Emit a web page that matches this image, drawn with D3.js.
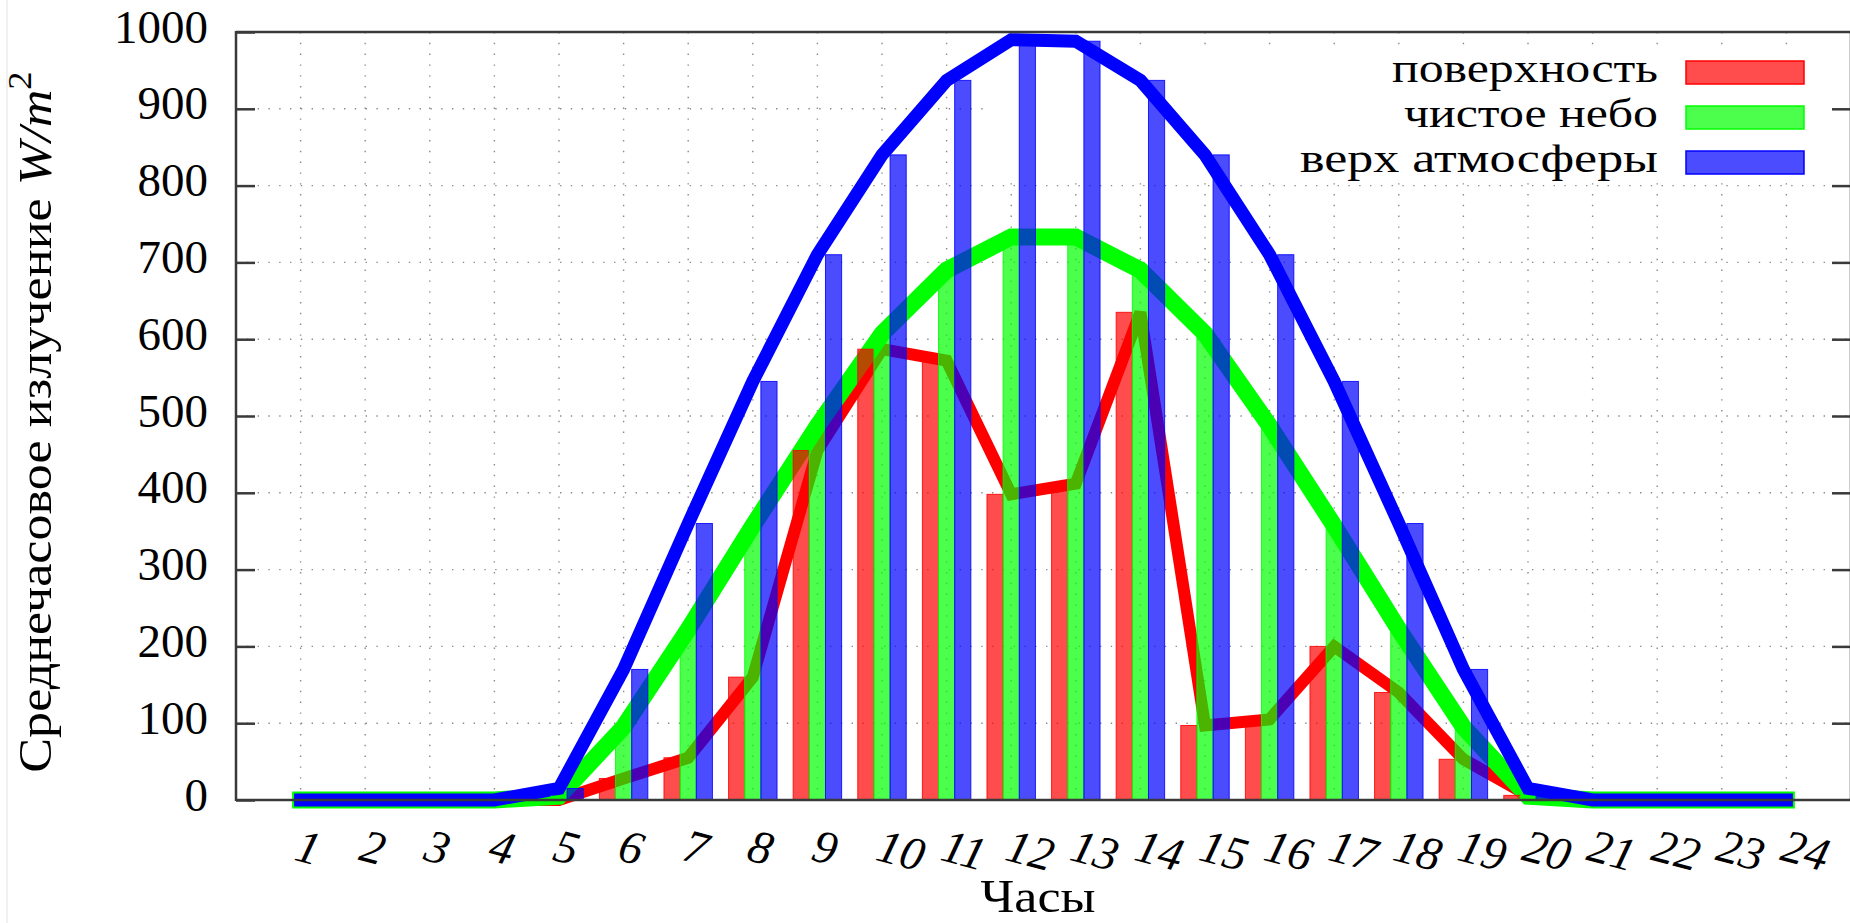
<!DOCTYPE html>
<html>
<head>
<meta charset="utf-8">
<script src="https://cdn.jsdelivr.net/npm/d3@7"></script>
<style>
  html, body { margin: 0; padding: 0; background: #fff; }
  svg { display: block; }
  text { font-family: "Liberation Serif", "Times New Roman", "DejaVu Serif", serif; }
</style>
</head>
<body>
<svg id="chart" width="1850" height="923"></svg>
<script>
// ---- data ----
const hours = [1,2,3,4,5,6,7,8,9,10,11,12,13,14,15,16,17,18,19,20,21,22,23,24];
const hourLabels = ["1","2","3","4","5","6","7","8","9","10","11","12","13","14","15","16","17","18","19","20","21","22","23","24"];
const surface  = [0,0,0,0,0,28,55,160,455,587,572,398,412,635,97,105,200,140,53,6,0,0,0,0];
const clearSky = [0,0,0,0,5,95,222,357,487,607,690,733,733,690,607,487,357,222,95,5,0,0,0,0];
const topAtm   = [0,0,0,0,15,170,360,545,710,840,937,990,988,937,840,710,545,360,170,15,0,0,0,0];
const yTicks = [0,100,200,300,400,500,600,700,800,900,1000];
const yTickLabels = ["0","100","200","300","400","500","600","700","800","900","1000"];
const seriesNames = ["поверхность", "чистое небо", "верх атмосферы"];
const xTitle = "Часы";
const yTitle = "Среднечасовое излучение ";

const colors = ["#ff0000", "#00ff00", "#0000ff"];
const series = [surface, clearSky, topAtm];

const svg = d3.select("#chart");
const W = 1850, H = 923;
const L = 236, R = 1851, T = 32, B = 800;
const x = d3.scaleLinear().domain([0, 25]).range([L, R]);
const y = d3.scaleLinear().domain([0, 1000]).range([B, T]);
const FONT = '"Liberation Serif", "Times New Roman", "DejaVu Serif", serif';

svg.append("rect").attr("width", W).attr("height", H).attr("fill", "#fff");
svg.append("line").attr("x1", 7).attr("x2", 7).attr("y1", 0).attr("y2", H)
   .attr("stroke", "#ececec").attr("stroke-width", 1.5);

// ---- grid ----
const grid = svg.append("g").attr("stroke", "#8a8a8a").attr("stroke-width", 1.4)
  .attr("stroke-dasharray", "1.4 9.4");
grid.selectAll("line.h").data(yTicks.filter(d => d > 0 && d < 1000)).join("line")
  .attr("x1", L).attr("x2", R).attr("y1", d => y(d)).attr("y2", d => y(d));
grid.selectAll("line.v").data(hours).join("line")
  .attr("x1", d => x(d)).attr("x2", d => x(d)).attr("y1", T).attr("y2", B);

// legend background (opaque key box hides grid)
svg.append("rect").attr("x", 988).attr("y", 52).attr("width", 1826 - 988).attr("height", 183 - 52)
  .attr("fill", "#fff");

// ---- lines ----
const lineGen = d3.line().x((d, i) => x(hours[i])).y(d => y(d));
const lw = [12, 17, 13];
series.forEach((s, k) => {
  svg.append("path").datum(s)
    .attr("d", lineGen)
    .attr("fill", "none")
    .attr("stroke", colors[k])
    .attr("stroke-width", lw[k])
    .attr("stroke-linejoin", "miter")
    .attr("stroke-miterlimit", 3)
    .attr("stroke-linecap", "square");
});

// ---- bars ----
const step = x(2) - x(1);
const bw = step / 4;
series.forEach((s, k) => {
  svg.append("g").selectAll("rect").data(s).join("rect")
    .attr("x", (d, i) => x(hours[i]) - 1.5 * bw + k * bw)
    .attr("y", d => y(d))
    .attr("width", bw)
    .attr("height", d => Math.max(0, y(0) - y(d)))
    .attr("fill", colors[k]).attr("fill-opacity", 0.7)
    .attr("stroke", colors[k]).attr("stroke-width", 1).attr("stroke-opacity", 0.85);
});

// ---- frame ----
const frame = svg.append("g").attr("stroke", "#3a3a3a").attr("stroke-width", 2.5).attr("fill", "none");
frame.append("line").attr("x1", L).attr("x2", L).attr("y1", y(1000) - 1).attr("y2", y(0) + 1);
frame.append("line").attr("x1", L).attr("x2", R).attr("y1", y(1000)).attr("y2", y(1000));
frame.append("line").attr("x1", L).attr("x2", R).attr("y1", y(0)).attr("y2", y(0));
frame.append("line").attr("x1", R).attr("x2", R).attr("y1", y(1000)).attr("y2", y(0));

// ---- y axis (left) ----
const yAxis = d3.axisLeft(y).tickValues(yTicks).tickSizeInner(-19).tickSizeOuter(0).tickPadding(28)
  .tickFormat((d, i) => yTickLabels[i]);
const gy = svg.append("g").attr("transform", `translate(${L},0)`).call(yAxis);
gy.attr("font-family", FONT).attr("font-size", 47);
gy.select(".domain").remove();
gy.selectAll(".tick line").attr("stroke", "#3a3a3a").attr("stroke-width", 2.5);
gy.selectAll(".tick text").attr("font-family", FONT).attr("font-size", 47)
  .attr("fill", "#000").attr("dy", null)
  .attr("transform", "translate(0,10)");
// right mirror ticks
const yAxisR = d3.axisRight(y).tickValues(yTicks.filter(d => d > 0 && d < 1000)).tickSizeInner(-19).tickSizeOuter(0).tickFormat("");
const gyr = svg.append("g").attr("transform", `translate(${R},0)`).call(yAxisR);
gyr.select(".domain").remove();
gyr.selectAll(".tick line").attr("stroke", "#3a3a3a").attr("stroke-width", 2.5);

// ---- x axis labels ----
const xAxis = d3.axisBottom(x).tickValues(hours).tickSize(0).tickFormat((d, i) => hourLabels[i]);
const gx = svg.append("g").attr("transform", `translate(0,${B})`).call(xAxis);
gx.attr("font-family", FONT).attr("font-size", 47);
gx.select(".domain").remove();
gx.selectAll(".tick text")
  .attr("font-family", FONT).attr("font-style", "italic").attr("font-size", 47)
  .attr("fill", "#000")
  .attr("text-anchor", "start").attr("y", 0).attr("dy", null)
  .attr("dominant-baseline", "central")
  .attr("transform", "translate(-4,44) rotate(15)");

// ---- titles ----
svg.append("text").attr("x", 1038).attr("y", 912).attr("text-anchor", "middle")
  .attr("font-family", FONT).attr("font-size", 47).attr("fill", "#000")
  .attr("textLength", 115).attr("lengthAdjust", "spacingAndGlyphs").text(xTitle);

const yt = svg.append("text").attr("transform", "translate(51,422) rotate(-90) scale(1.11,1)")
  .attr("text-anchor", "middle").attr("font-family", FONT).attr("font-size", 47).attr("fill", "#000");
yt.append("tspan").text(yTitle);
yt.append("tspan").attr("font-style", "italic").text("W/m");
yt.append("tspan").attr("font-size", 33).attr("dy", -20).text("2");

// ---- legend ----
const legendRows = [72.5, 117.5, 162.5];
const legendWidths = [266, 254, 358];
seriesNames.forEach((name, k) => {
  svg.append("text").attr("x", 1658).attr("y", legendRows[k] + 9.5)
    .attr("text-anchor", "end").attr("font-family", FONT).attr("font-size", 40)
    .attr("textLength", legendWidths[k]).attr("lengthAdjust", "spacingAndGlyphs")
    .attr("fill", "#000").text(name);
  svg.append("rect").attr("x", 1686).attr("y", legendRows[k] - 11.5).attr("width", 118).attr("height", 23)
    .attr("fill", colors[k]).attr("fill-opacity", 0.7)
    .attr("stroke", colors[k]).attr("stroke-width", 1.5);
});
</script>
</body>
</html>
